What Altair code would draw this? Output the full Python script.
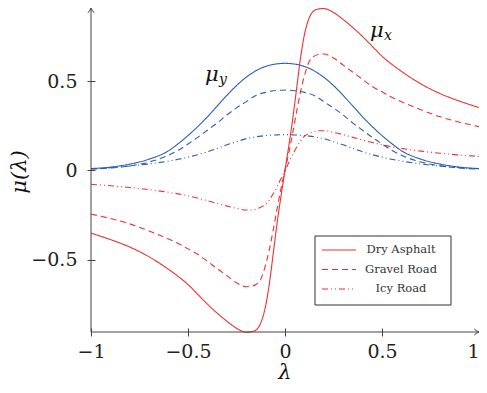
import altair as alt
import pandas as pd

# ---------------- data ----------------
lam = [-1.0, -0.9, -0.8, -0.7, -0.6, -0.55, -0.5, -0.45, -0.4, -0.35, -0.3, -0.25,
       -0.2, -0.175, -0.15, -0.125, -0.1, -0.08, -0.06, -0.04, -0.02,
       0.0,
       0.02, 0.04, 0.06, 0.08, 0.1, 0.125, 0.15, 0.175, 0.2, 0.25, 0.3, 0.35,
       0.4, 0.45, 0.5, 0.55, 0.6, 0.7, 0.8, 0.9, 1.0]

mux_dry = [-0.352, -0.388, -0.43, -0.485, -0.555, -0.595, -0.64, -0.695, -0.75, -0.80, -0.845, -0.885,
           -0.907, -0.905, -0.895, -0.855, -0.76, -0.63, -0.46, -0.29, -0.14,
           0.0,
           0.14, 0.29, 0.46, 0.63, 0.76, 0.855, 0.895, 0.905, 0.907, 0.885, 0.845, 0.80,
           0.75, 0.695, 0.64, 0.595, 0.555, 0.485, 0.43, 0.388, 0.352]

mux_gravel = [-0.245, -0.27, -0.30, -0.34, -0.385, -0.41, -0.44, -0.47, -0.51, -0.55, -0.59, -0.63,
              -0.652, -0.65, -0.64, -0.61, -0.53, -0.44, -0.33, -0.21, -0.10,
              0.0,
              0.10, 0.21, 0.33, 0.44, 0.53, 0.61, 0.64, 0.65, 0.652, 0.63, 0.59, 0.55,
              0.51, 0.47, 0.44, 0.41, 0.385, 0.34, 0.30, 0.27, 0.245]

mux_icy = [-0.078, -0.086, -0.096, -0.108, -0.123, -0.132, -0.143, -0.156, -0.17, -0.185, -0.2, -0.213,
           -0.222, -0.222, -0.217, -0.207, -0.19, -0.165, -0.13, -0.09, -0.045,
           0.0,
           0.045, 0.09, 0.13, 0.165, 0.19, 0.207, 0.217, 0.222, 0.222, 0.213, 0.2, 0.185,
           0.17, 0.156, 0.143, 0.132, 0.123, 0.108, 0.096, 0.086, 0.078]

muy_dry = [0.01, 0.018, 0.035, 0.063, 0.11, 0.15, 0.195, 0.245, 0.30, 0.36, 0.42, 0.475,
           0.522, 0.541, 0.558, 0.572, 0.582, 0.589, 0.594, 0.597, 0.599,
           0.60,
           0.599, 0.597, 0.594, 0.589, 0.582, 0.572, 0.558, 0.541, 0.522, 0.475, 0.42, 0.36,
           0.30, 0.245, 0.195, 0.15, 0.11, 0.063, 0.035, 0.018, 0.01]

muy_gravel = [0.007, 0.013, 0.025, 0.047, 0.085, 0.113, 0.148, 0.185, 0.225, 0.265, 0.31, 0.35,
              0.385, 0.404, 0.42, 0.43, 0.437, 0.442, 0.446, 0.448, 0.449,
              0.45,
              0.449, 0.448, 0.446, 0.442, 0.437, 0.43, 0.42, 0.404, 0.385, 0.35, 0.31, 0.265,
              0.225, 0.185, 0.148, 0.113, 0.085, 0.047, 0.025, 0.013, 0.007]

muy_icy = [0.009, 0.015, 0.024, 0.036, 0.052, 0.062, 0.074, 0.088, 0.104, 0.123, 0.143, 0.16,
           0.178, 0.183, 0.188, 0.192, 0.195, 0.197, 0.198, 0.199, 0.2,
           0.2,
           0.2, 0.199, 0.198, 0.197, 0.195, 0.192, 0.188, 0.183, 0.178, 0.16, 0.143, 0.123,
           0.104, 0.088, 0.074, 0.062, 0.052, 0.036, 0.024, 0.015, 0.009]

roads = ["Dry Asphalt", "Gravel Road", "Icy Road"]
x_ticks = [-1, -0.5, 0, 0.5, 1]
y_ticks = [-0.5, 0, 0.5]

# ---------------- styling ----------------
RED = "#ee3030"
BLUE = "#2b5cb0"
AXIS = "#444444"
dashes = [[1, 0], [6, 4], [6, 3, 1, 3, 1, 3]]
SERIF = "DejaVu Serif"

series = [
    ("x", "Dry Asphalt", mux_dry), ("x", "Gravel Road", mux_gravel), ("x", "Icy Road", mux_icy),
    ("y", "Dry Asphalt", muy_dry), ("y", "Gravel Road", muy_gravel), ("y", "Icy Road", muy_icy),
]
rows = []
for comp, road, vals in series:
    for l, m in zip(lam, vals):
        rows.append({"lam": l, "mu": m, "comp": comp, "road": road, "series": comp + road})
df = pd.DataFrame(rows)

W, H = 388, 324

xaxis = alt.Axis(values=x_ticks, format="~g", domain=False, grid=False, title=None,
                 tickSize=8, offset=-4, tickColor=AXIS, tickWidth=1,
                 labelFont=SERIF, labelFontSize=19, labelColor="#222222",
                 labelPadding=6, labelFlush=False, labelOverlap=False,
                 labelAlign={"condition": {"test": "datum.value >= 1", "value": "right"},
                             "value": "center"})
yaxis = alt.Axis(values=y_ticks, format="~g", domain=False, grid=False, title=None,
                 tickSize=8, offset=-4, tickColor=AXIS, tickWidth=1,
                 labelFont=SERIF, labelFontSize=19, labelColor="#222222",
                 labelPadding=10, labelFlush=False, labelOverlap=False)

lines = alt.Chart(df).mark_line(strokeWidth=1.1, interpolate="monotone").encode(
    x=alt.X("lam:Q", scale=alt.Scale(domain=[-1, 1], nice=False, zero=False), axis=xaxis),
    y=alt.Y("mu:Q", scale=alt.Scale(domain=[-0.906, 0.91], nice=False, zero=False), axis=yaxis),
    color=alt.Color("comp:N", scale=alt.Scale(domain=["x", "y"], range=[RED, BLUE]), legend=None),
    strokeDash=alt.StrokeDash("road:N", scale=alt.Scale(domain=roads, range=dashes), legend=None),
    detail="series:N",
)

one = alt.Data(values=[{}])

# axis lines with arrow heads
xline = alt.Chart(one).mark_rule(color=AXIS, strokeWidth=1).encode(
    x=alt.value(0), x2=alt.value(W), y=alt.value(H))
yline = alt.Chart(one).mark_rule(color=AXIS, strokeWidth=1).encode(
    x=alt.value(0), y=alt.value(0), y2=alt.value(H))
xarrow = alt.Chart(one).mark_point(
    shape="M -1.6 -1 Q -0.6 -0.2 0 0 Q -0.6 0.2 -1.6 1", filled=False, size=36,
    color=AXIS, strokeWidth=1, opacity=1).encode(x=alt.value(W), y=alt.value(H))
yarrow = alt.Chart(one).mark_point(
    shape="M -1 1.6 Q -0.2 0.6 0 0 Q 0.2 0.6 1 1.6", filled=False, size=36,
    color=AXIS, strokeWidth=1, opacity=1).encode(x=alt.value(0), y=alt.value(0))

# axis titles
ytitle = alt.Chart(one).mark_text(text="μ(λ)", font=SERIF, fontSize=21, fontStyle="italic",
                                  angle=270, align="center", baseline="middle", color="#111111").encode(
    x=alt.value(-71), y=alt.value(164))
xtitle = alt.Chart(one).mark_text(text="λ", font=SERIF, fontSize=21, fontStyle="italic",
                                  align="center", baseline="alphabetic", color="#111111").encode(
    x=alt.value(W / 2), y=alt.value(371))

# curve annotations
mux_lbl = alt.Chart(one).mark_text(text="μ", font=SERIF, fontSize=21, fontStyle="italic",
                                   align="left", baseline="alphabetic", color="#111111").encode(
    x=alt.value(279), y=alt.value(29))
mux_sub = alt.Chart(one).mark_text(text="x", font=SERIF, fontSize=14, fontStyle="italic",
                                   align="left", baseline="alphabetic", color="#111111").encode(
    x=alt.value(293), y=alt.value(32))
muy_lbl = alt.Chart(one).mark_text(text="μ", font=SERIF, fontSize=21, fontStyle="italic",
                                   align="left", baseline="alphabetic", color="#111111").encode(
    x=alt.value(114), y=alt.value(73))
muy_sub = alt.Chart(one).mark_text(text="y", font=SERIF, fontSize=14, fontStyle="italic",
                                   align="left", baseline="alphabetic", color="#111111").encode(
    x=alt.value(128), y=alt.value(76))

# legend box
LX, LY, LW, LH = 224, 228, 136, 69
box = alt.Chart(one).mark_rect(fill="white", stroke="#333333", strokeWidth=1).encode(
    x=alt.value(LX), x2=alt.value(LX + LW), y=alt.value(LY), y2=alt.value(LY + LH))
legend_layers = [box]
for i, road in enumerate(roads):
    yy = LY + 14 + 19.5 * i
    legend_layers.append(alt.Chart(one).mark_rule(color=RED, strokeWidth=1.1, strokeDash=dashes[i]).encode(
        x=alt.value(LX + 7), x2=alt.value(LX + 41), y=alt.value(yy)))
    legend_layers.append(alt.Chart(one).mark_text(text=road, font=SERIF, fontSize=11.5,
                                                  align="center", baseline="middle", color="#333333").encode(
        x=alt.value(LX + 86), y=alt.value(yy)))

chart = alt.layer(
    lines, xline, yline, xarrow, yarrow, ytitle, xtitle,
    mux_lbl, mux_sub, muy_lbl, muy_sub, *legend_layers
).properties(
    width=W, height=H,
    padding={"left": 83, "top": 0, "right": 0, "bottom": 53},
    autosize=alt.AutoSizeParams(type="none"),
    background="white",
).configure_view(stroke=None)

chart.save("out.html", embed_options={"renderer": "svg", "actions": False})
